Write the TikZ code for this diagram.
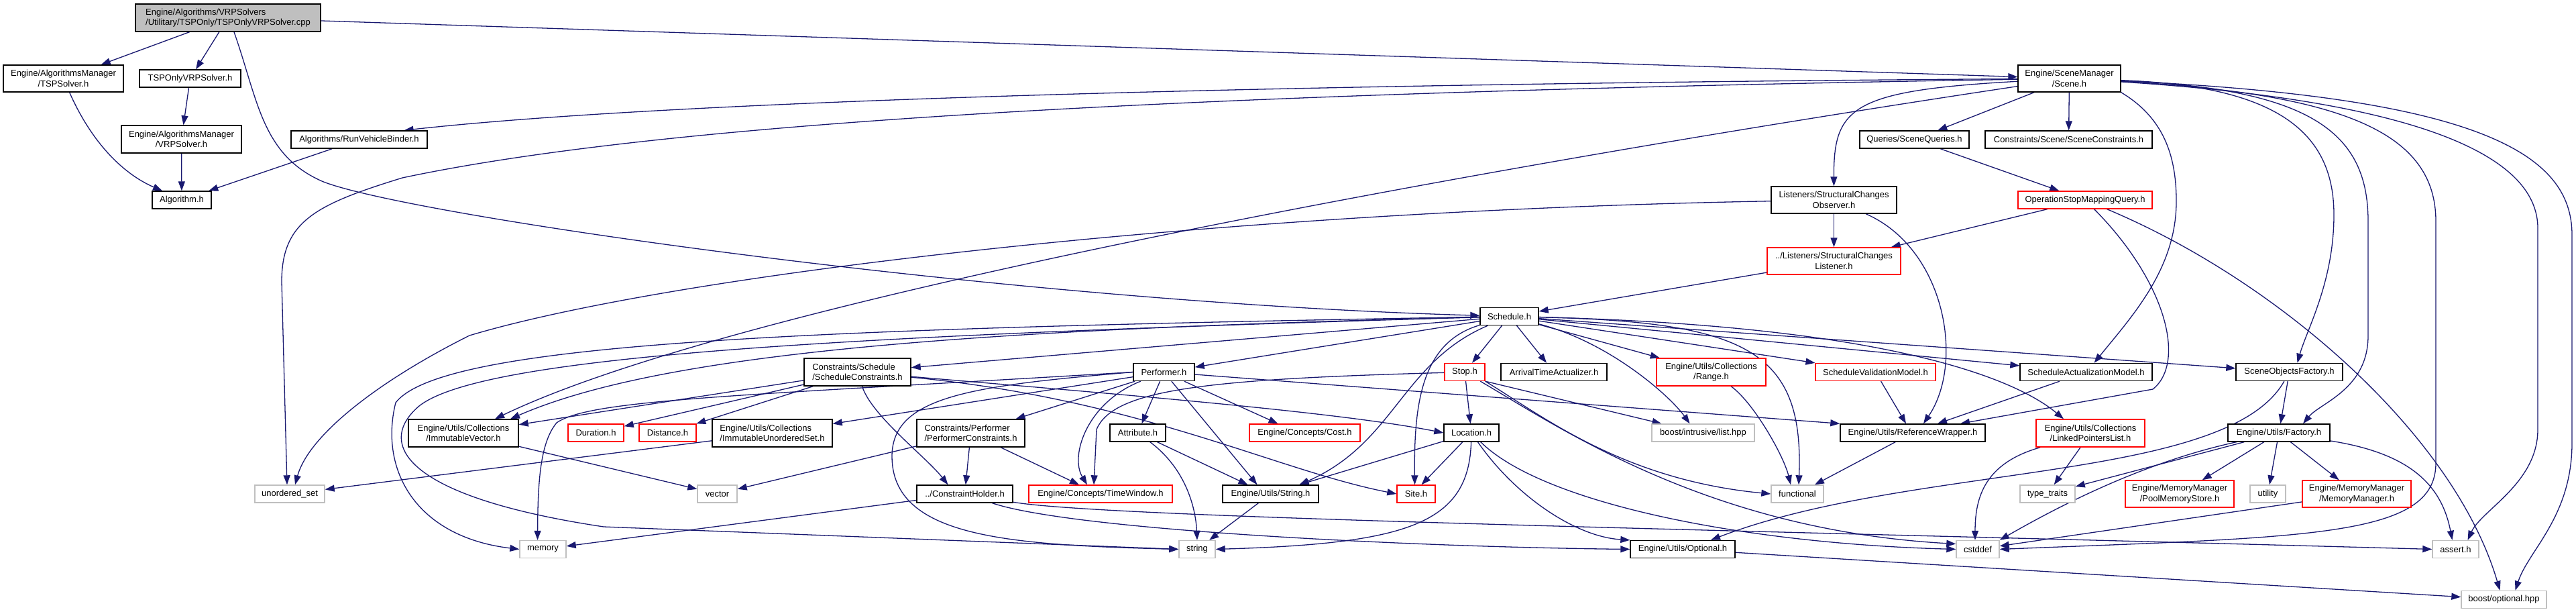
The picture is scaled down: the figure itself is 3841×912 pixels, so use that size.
\documentclass[tikz,border=0pt]{standalone}
\usepackage{fontspec}
\setmainfont{Liberation Sans}
\usetikzlibrary{arrows.meta}
\definecolor{dxblue}{HTML}{191970}
\definecolor{dxred}{HTML}{FF0000}
\definecolor{dxgray}{HTML}{BFBFBF}
\definecolor{dxfill}{HTML}{BFBFBF}
\newcommand{\dxfont}{\fontsize{13}{15.5}\selectfont}
\pgfdeclarelayer{bg}
\pgfsetlayers{bg,main}
\tikzset{
  box/.style={draw=black, line width=1.4pt, fill=white, inner sep=0pt, font=\dxfont, align=center},
  rbox/.style={box, draw=dxred},
  gbox/.style={box, draw=dxgray},
  sz/.style 2 args={minimum width=#1pt, minimum height=#2pt},
  ed/.style={draw=dxblue, line width=1.3pt, -{Triangle[length=14pt,width=10pt]}},
}
\begin{document}
\begin{tikzpicture}[x=1pt,y=-1pt]
\useasboundingbox (0,0) rectangle (3841,912);
% ---------------- nodes ----------------
\node[box,sz={276}{41},fill=dxfill,align=left] (root) at (340,26.5) {Engine/Algorithms/VRPSolvers\\/Utilitary/TSPOnly/TSPOnlyVRPSolver.cpp};
\node[box,sz={179}{40}] (tspsolver) at (94.5,117) {Engine/AlgorithmsManager\\/TSPSolver.h};
\node[box,sz={151}{26}] (tsponlyh) at (283.5,117) {TSPOnlyVRPSolver.h};
\node[box,sz={179}{41}] (vrpsolver) at (270.5,207.5) {Engine/AlgorithmsManager\\/VRPSolver.h};
\node[box,sz={203}{26}] (runveh) at (535.5,208) {Algorithms/RunVehicleBinder.h};
\node[box,sz={88}{26}] (algorithm) at (271,298) {Algorithm.h};
\node[box,sz={153}{40}] (scene) at (3085.5,117) {Engine/SceneManager\\/Scene.h};
\node[box,sz={163}{26}] (queries) at (2854.5,208) {Queries/SceneQueries.h};
\node[box,sz={249}{26}] (sceneconstr) at (3084.5,208) {Constraints/Scene/SceneConstraints.h};
\node[rbox,sz={200}{26}] (opstop) at (3109,298) {OperationStopMappingQuery.h};
\node[box,sz={187}{40}] (observer) at (2734.5,298) {Listeners/StructuralChanges\\Observer.h};
\node[rbox,sz={199}{40}] (listener) at (2734.5,389) {../Listeners/StructuralChanges\\Listener.h};
\node[box,sz={87}{26}] (schedule) at (2250.5,471.5) {Schedule.h};
\node[box,sz={159}{41},align=left] (schedconstr) at (1278.5,554.5) {Constraints/Schedule\\/ScheduleConstraints.h};
\node[box,sz={91}{26}] (performer) at (1735.5,554.5) {Performer.h};
\node[rbox,sz={60}{26}] (stop) at (2184,554.5) {Stop.h};
\node[box,sz={158}{26}] (arrival) at (2317,554.5) {ArrivalTimeActualizer.h};
\node[rbox,sz={163}{41}] (range) at (2551.5,554.5) {Engine/Utils/Collections\\/Range.h};
\node[rbox,sz={179}{26}] (schedval) at (2796.5,554.5) {ScheduleValidationModel.h};
\node[box,sz={197}{26}] (schedact) at (3110.5,554.5) {ScheduleActualizationModel.h};
\node[box,sz={159}{26}] (sceneobj) at (3413.5,554.5) {SceneObjectsFactory.h};
\node[box,sz={164}{41}] (immvec) at (691,645.5) {Engine/Utils/Collections\\/ImmutableVector.h};
\node[rbox,sz={83}{26}] (duration) at (888.5,645) {Duration.h};
\node[rbox,sz={85}{26}] (distance) at (995.5,645) {Distance.h};
\node[box,sz={179}{41},align=left] (immuset) at (1151.5,645.5) {Engine/Utils/Collections\\/ImmutableUnorderedSet.h};
\node[box,sz={161}{41},align=left] (perfconstr) at (1447.5,645.5) {Constraints/Performer\\/PerformerConstraints.h};
\node[box,sz={83}{26}] (attribute) at (1696.5,645) {Attribute.h};
\node[rbox,sz={165}{26}] (cost) at (1945.5,645) {Engine/Concepts/Cost.h};
\node[box,sz={82}{26}] (location) at (2194,645) {Location.h};
\node[gbox,sz={153}{26}] (listhpp) at (2539.5,645) {boost/intrusive/list.hpp};
\node[box,sz={216}{26}] (refwrap) at (2852,645) {Engine/Utils/ReferenceWrapper.h};
\node[rbox,sz={162}{41}] (linked) at (3117,645.5) {Engine/Utils/Collections\\/LinkedPointersList.h};
\node[box,sz={152}{26}] (factory) at (3398,645) {Engine/Utils/Factory.h};
\node[gbox,sz={104}{26}] (unordered) at (432,736) {unordered\_set};
\node[gbox,sz={59}{26}] (vector) at (1069.5,736) {vector};
\node[box,sz={143}{26}] (constrholder) at (1438.5,736) {../ConstraintHolder.h};
\node[rbox,sz={214}{26}] (timewindow) at (1641,736) {Engine/Concepts/TimeWindow.h};
\node[box,sz={143}{26}] (stringh) at (1894.5,736) {Engine/Utils/String.h};
\node[rbox,sz={57}{26}] (site) at (2111.5,736) {Site.h};
\node[gbox,sz={78}{26}] (functional) at (2680,736) {functional};
\node[gbox,sz={82}{26}] (typetraits) at (3053,736) {type\_traits};
\node[rbox,sz={162}{40}] (poolmem) at (3250,736) {Engine/MemoryManager\\/PoolMemoryStore.h};
\node[gbox,sz={53}{26}] (utility) at (3381.5,736) {utility};
\node[rbox,sz={162}{40}] (memmgr) at (3514,736) {Engine/MemoryManager\\/MemoryManager.h};
\node[gbox,sz={69}{26}] (memory) at (809.5,818.5) {memory};
\node[gbox,sz={54}{26}] (string) at (1785,818.5) {string};
\node[box,sz={156}{26}] (optional) at (2509,818.5) {Engine/Utils/Optional.h};
\node[gbox,sz={64}{26}] (cstddef) at (2949,818.5) {cstddef};
\node[gbox,sz={69}{26}] (asserth) at (3661.5,818.5) {assert.h};
\node[gbox,sz={127}{26}] (boostopt) at (3733.5,893.5) {boost/optional.hpp};
% ---------------- edges ----------------
\begin{pgfonlayer}{bg}
\fill[white] (0,0) rectangle (3841,912);
% root
\draw[ed] (root) -- (tspsolver);
\draw[ed] (root) -- (tsponlyh);
\draw[ed] (root) -- (scene);
\draw[ed] ([xshift=9pt]root.south) .. controls (385,150) and (390,230) .. (480,270) .. controls (600,320) and (1500,450) .. (schedule);
% left cluster
\draw[ed] (tsponlyh) -- (vrpsolver);
\draw[ed] (tspsolver) .. controls (140,220) and (190,262) .. ([xshift=-29pt]algorithm.north);
\draw[ed] (vrpsolver) -- (algorithm);
\draw[ed] (runveh) -- (algorithm);
% scene
\draw[ed] (scene) .. controls (1900,125) and (1000,150) .. ([xshift=67pt]runveh.north);
\draw[ed] (scene) .. controls (1800,138) and (1000,180) .. (600,265) .. controls (470,305) and (420,330) .. (420,420) -- ([xshift=-4pt]unordered.north);
\draw[ed] (scene) -- (queries);
\draw[ed] (scene) -- (sceneconstr);
\draw[ed] (scene) .. controls (2760,135) and (2734,160) .. (observer);
\draw[ed] (scene) .. controls (2200,250) and (1100,450) .. ([xshift=47pt]immvec.north);
\draw[ed] (scene.south east) .. controls (3225,175) and (3245,230) .. (3245,300) .. controls (3245,400) and (3180,470) .. ([xshift=12pt]schedact.north);
\draw[ed] (scene) .. controls (3400,128) and (3480,200) .. (3480,320) .. controls (3480,420) and (3440,490) .. ([xshift=12pt]sceneobj.north);
\draw[ed] (scene) .. controls (3450,132) and (3531,200) .. (3531,330) -- (3531,500) .. controls (3531,580) and (3460,600) .. ([xshift=36pt]factory.north);
\draw[ed] (scene) .. controls (3500,140) and (3632,200) .. (3632,330) -- (3632,690) .. controls (3632,800) and (3450,800) .. (cstddef.east);
\draw[ed] (scene) .. controls (3600,150) and (3784,230) .. (3784,340) -- (3784,640) .. controls (3784,720) and (3700,760) .. ([xshift=18pt]asserth.north);
\draw[ed] (scene) .. controls (3700,145) and (3835,230) .. (3835,350) -- (3835,660) .. controls (3835,770) and (3770,820) .. ([xshift=17pt]boostopt.north);
% observer, listener, query
\draw[ed] (queries) -- (opstop);
\draw[ed] (observer) -- (listener);
\draw[ed] (opstop) -- (listener);
\draw[ed] (listener) -- (schedule);
\draw[ed] (observer) .. controls (1800,315) and (1000,410) .. (700,500) .. controls (560,570) and (460,650) .. ([xshift=8pt]unordered.north);
\draw[ed] (observer) .. controls (2900,370) and (2930,540) .. ([xshift=16pt]refwrap.north);
\draw[ed] (opstop) .. controls (3230,420) and (3260,540) .. (3210,580) -- ([xshift=71pt]refwrap.north);
\draw[ed] (opstop) .. controls (3400,420) and (3660,650) .. ([xshift=-6pt]boostopt.north);
% schedule
\draw[ed] (schedule) -- (schedconstr);
\draw[ed] (schedule) -- (performer);
\draw[ed] (schedule) -- (stop);
\draw[ed] (schedule) -- (arrival);
\draw[ed] (schedule) -- (range);
\draw[ed] (schedule) -- (schedval);
\draw[ed] (schedule) -- (schedact);
\draw[ed] (schedule) -- (sceneobj);
\draw[ed] (schedule) .. controls (1500,490) and (1000,520) .. ([xshift=70pt]immvec.north);
\draw[ed] (schedule) .. controls (1200,490) and (660,510) .. (590,600) .. controls (565,700) and (620,800) .. (memory.west);
\draw[ed] (schedule) .. controls (1250,500) and (720,530) .. (625,605) .. controls (560,660) and (600,740) .. (900,785) -- (string.west);
\draw[ed] (schedule) .. controls (2800,485) and (3000,560) .. ([xshift=-40pt]linked.north);
\draw[ed] (schedule) .. controls (2600,480) and (2690,520) .. ([xshift=2pt]functional.north);
\draw[ed] (schedule) .. controls (2400,510) and (2490,590) .. ([xshift=-20pt]listhpp.north);
\draw[ed] (schedule) .. controls (2120,510) and (2108,600) .. ([xshift=-2pt]site.north);
\draw[ed] (schedule) .. controls (2090,540) and (2080,660) .. ([xshift=43pt]stringh.north);
% stop
\draw[ed] (stop) -- (location);
\draw[ed] (stop) .. controls (1800,565) and (1660,580) .. (1635,640) -- ([xshift=-10pt]timewindow.north);
\draw[ed] (stop.south east) -- ([xshift=-62pt]listhpp.north);
\draw[ed] (stop.south east) .. controls (2300,620) and (2420,715) .. (functional.west);
\draw[ed] (stop) .. controls (2330,640) and (2550,790) .. ([yshift=8pt]cstddef.west);
% location
\draw[ed] (location) -- ([xshift=43pt]stringh.north);
\draw[ed] (location) -- ([xshift=8pt]site.north);
\draw[ed] (location) .. controls (2190,780) and (2100,810) .. (string.east);
\draw[ed] (location) .. controls (2260,740) and (2350,800) .. (optional.north west);
\draw[ed] (location) .. controls (2300,750) and (2600,810) .. (cstddef.west);
% performer
\draw[ed] (performer) -- (attribute);
\draw[ed] (performer) .. controls (1620,600) and (1595,680) .. ([xshift=-20pt]timewindow.north);
\draw[ed] (performer) -- ([xshift=-20pt]stringh.north);
\draw[ed] (performer) -- ([xshift=-40pt]cost.north);
\draw[ed] (performer) -- (perfconstr);
\draw[ed] (performer) -- (immuset);
\draw[ed] (performer.west) .. controls (1450,575) and (1330,590) .. (1330,680) .. controls (1330,800) and (1500,812) .. (string.west);
\draw[ed] (performer) -- (refwrap.north west);
\draw[ed] (performer.west) .. controls (1100,590) and (880,595) .. (830,630) .. controls (805,660) and (802,720) .. ([xshift=-8pt]memory.north);
% schedule constraints
\draw[ed] (schedconstr) -- (immvec);
\draw[ed] (schedconstr) -- (duration);
\draw[ed] (schedconstr) -- (distance);
\draw[ed] (schedconstr) .. controls (1300,620) and (1380,680) .. ([xshift=-25pt]constrholder.north);
\draw[ed] (schedconstr) .. controls (1700,590) and (2000,615) .. (location.west);
\draw[ed] (schedconstr) .. controls (1700,595) and (1900,700) .. (site.west);
% lower left
\draw[ed] (perfconstr) -- (vector);
\draw[ed] (perfconstr) -- (constrholder);
\draw[ed] (perfconstr) -- ([xshift=-32pt]timewindow.north);
\draw[ed] (attribute) -- ([xshift=-34pt]stringh.north);
\draw[ed] (attribute) .. controls (1770,700) and (1783,760) .. (string.north);
\draw[ed] (immvec) -- (vector);
\draw[ed] (immuset) -- (unordered);
\draw[ed] (constrholder) -- (memory);
\draw[ed] (constrholder) .. controls (1600,790) and (2100,815) .. (optional.west);
\draw[ed] (constrholder) .. controls (1650,772) and (2600,790) .. (asserth.west);
\draw[ed] (stringh) -- (string);
% right side
\draw[ed] (range) .. controls (2615,600) and (2660,680) .. ([xshift=-10pt]functional.north);
\draw[ed] (refwrap) -- (functional);
\draw[ed] (schedval) -- ([xshift=-10pt]refwrap.north);
\draw[ed] (schedact) -- ([xshift=37pt]refwrap.north);
\draw[ed] (sceneobj) -- (factory);
\draw[ed] (sceneobj) .. controls (3320,720) and (2850,690) .. ([xshift=42pt]optional.north);
\draw[ed] (factory) -- (typetraits);
\draw[ed] (factory) .. controls (3190,690) and (3060,760) .. (cstddef.north east);
\draw[ed] (factory) -- (poolmem);
\draw[ed] (factory) -- (utility);
\draw[ed] (factory) -- (memmgr);
\draw[ed] (factory) .. controls (3590,675) and (3640,720) .. ([xshift=-5pt]asserth.north);
\draw[ed] (memmgr) -- (cstddef);
\draw[ed] (linked) -- (typetraits);
\draw[ed] (linked) .. controls (2960,690) and (2945,740) .. ([xshift=-4pt]cstddef.north);
\draw[ed] (optional) -- (boostopt);
\end{pgfonlayer}
\end{tikzpicture}
\end{document}
